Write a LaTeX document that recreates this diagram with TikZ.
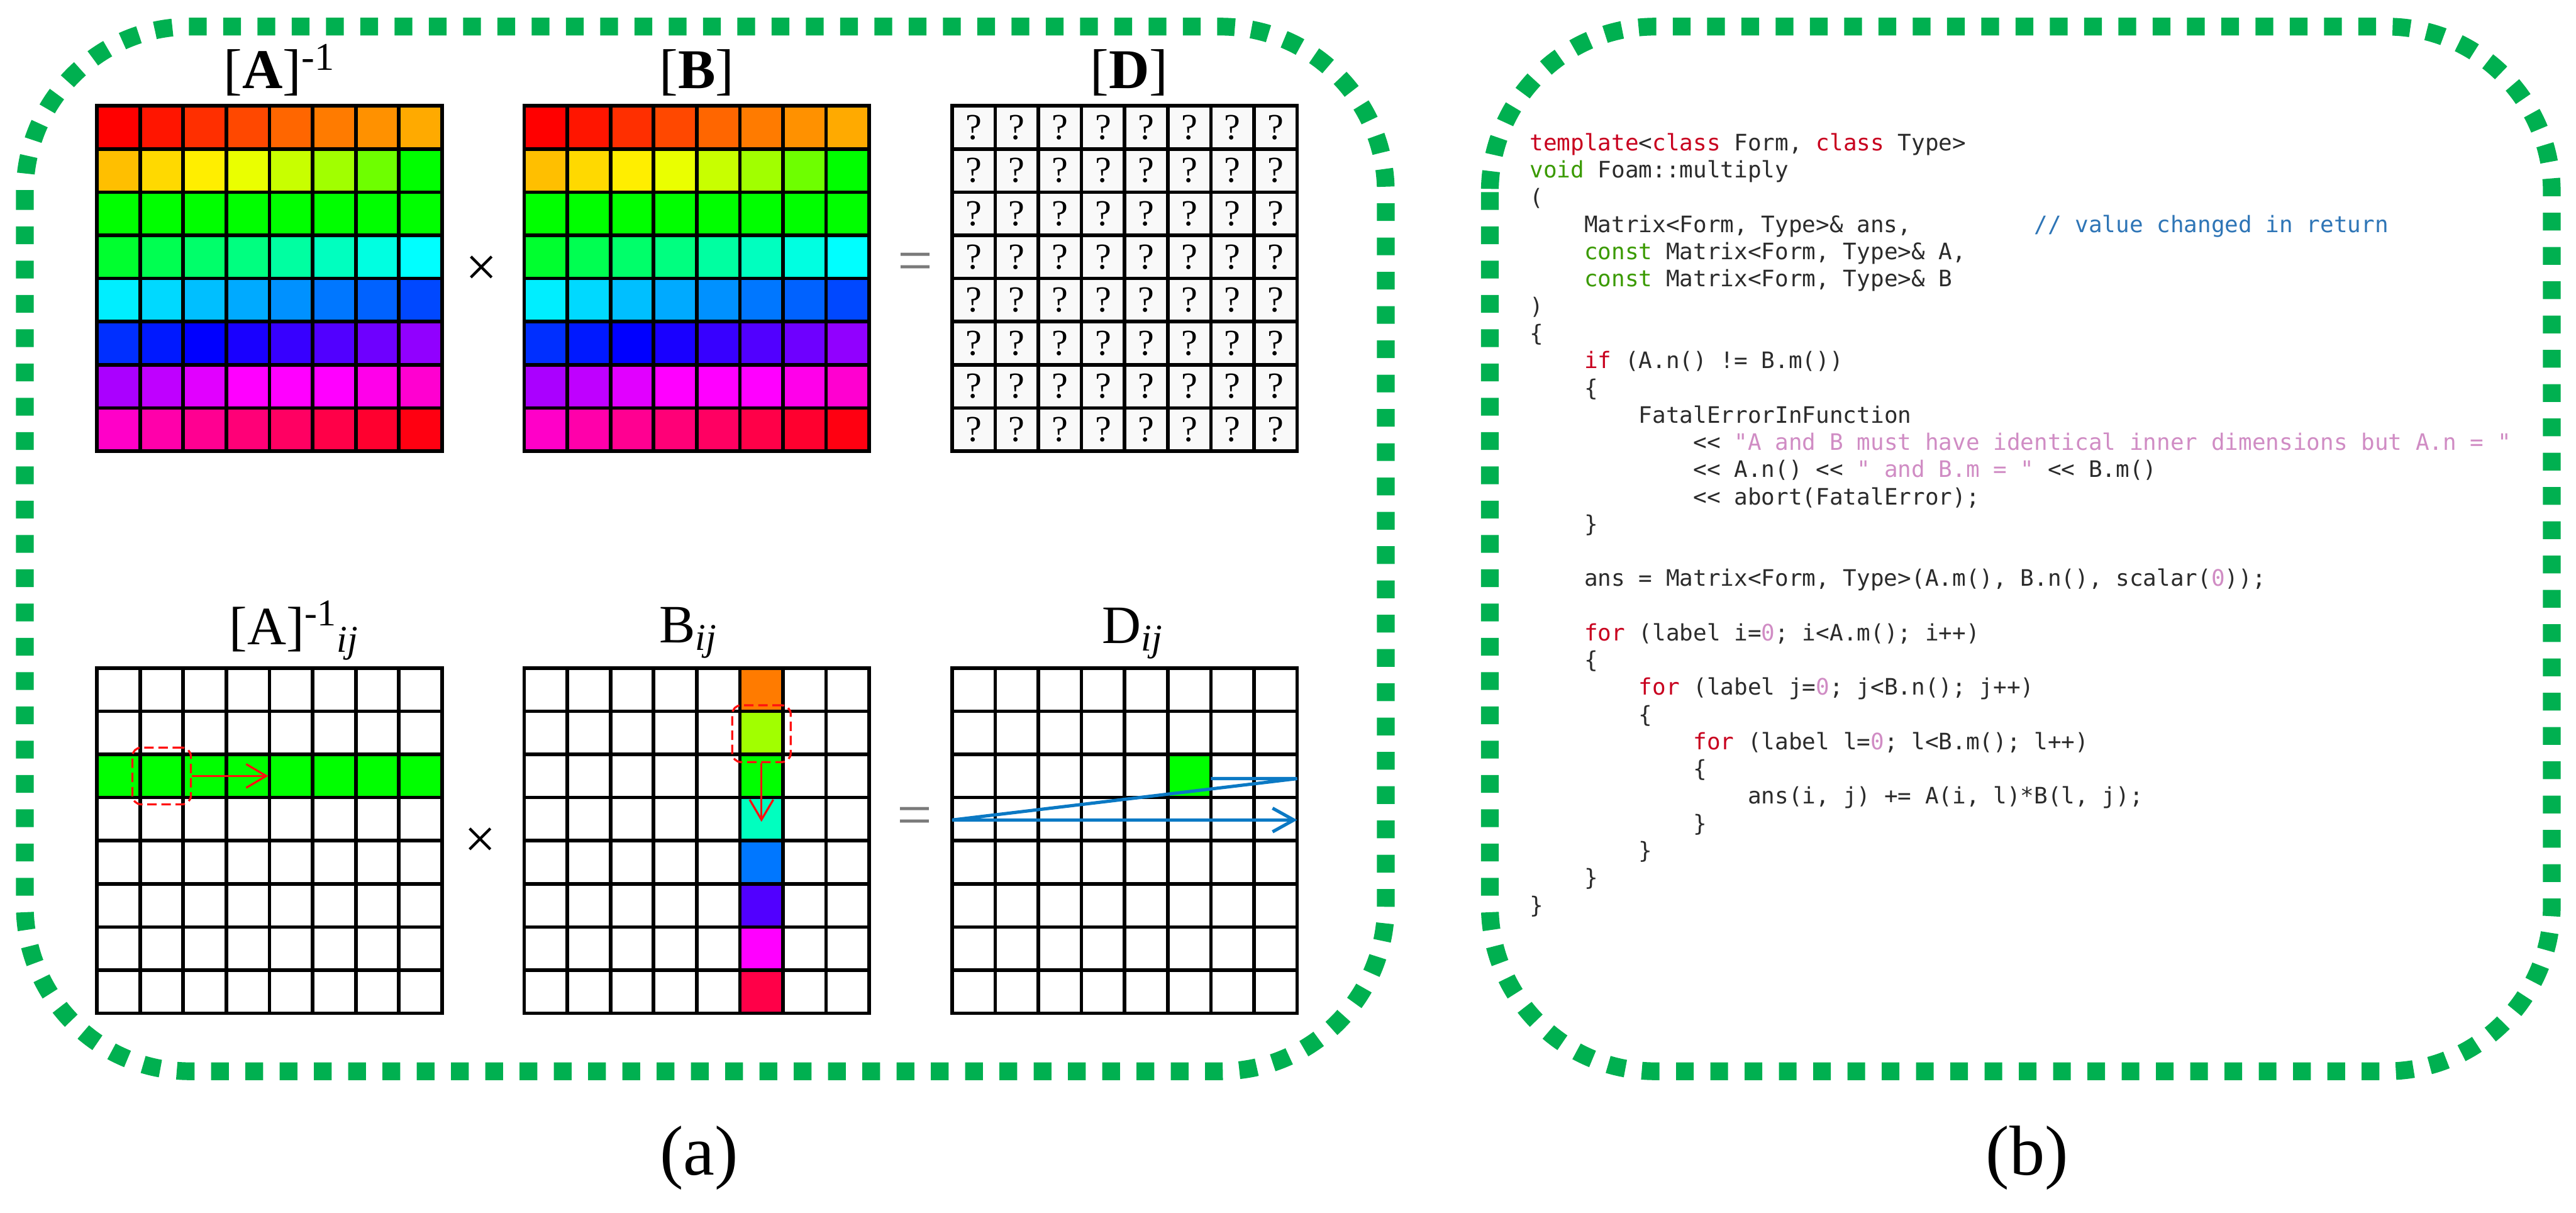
\documentclass[tikz,border=0pt]{standalone}
\usepackage{fontspec}
\setmainfont{Liberation Serif}
\newfontfamily\codefont{DejaVu Sans Mono}
\usetikzlibrary{arrows.meta}
\definecolor{boxgrn}{HTML}{00B050}
\definecolor{cellgr}{HTML}{00FF00}
\definecolor{qbg}{HTML}{F9F9F9}
\definecolor{selred}{HTML}{FF1010}
\definecolor{pathblu}{HTML}{0B79C4}
\definecolor{eqgray}{HTML}{7A7A7A}
\definecolor{codetxt}{HTML}{2B2B2B}
\definecolor{kwred}{HTML}{C8001E}
\definecolor{tygrn}{HTML}{3A9A00}
\definecolor{cmblu}{HTML}{2E75B6}
\definecolor{strpk}{HTML}{D08CC4}
\newcommand{\kwd}[1]{\textcolor{kwred}{#1}}
\newcommand{\typ}[1]{\textcolor{tygrn}{#1}}
\newcommand{\cmt}[1]{\textcolor{cmblu}{#1}}
\newcommand{\strg}[1]{\textcolor{strpk}{#1}}
\newcommand{\tb}{\hphantom{xxxx}}
\tikzset{
  frm/.style={draw=boxgrn, line width=3mm, dash pattern=on 3mm off 2.8mm, rounded corners=2.8cm},
  gln/.style={line width=0.6mm, line cap=rect},
  qmk/.style={inner sep=0pt, font=\fontsize{17.6}{20}\selectfont},
  lbl/.style={anchor=base, inner sep=0pt, font=\fontsize{27}{32}\selectfont},
  lbls/.style={anchor=base, inner sep=0pt, font=\fontsize{26}{31}\selectfont},
  opsym/.style={inner sep=0pt, font=\fontsize{27}{32}\selectfont},
  eqsym/.style={inner sep=0pt, text=eqgray, font=\fontsize{30}{34}\selectfont},
  sel/.style={draw=selred, line width=0.35mm, dash pattern=on 1.6mm off 0.8mm, rounded corners=1.5mm,
    minimum width=9.9mm, minimum height=9.6mm, inner sep=0pt},
  rarr/.style={draw=selred, line width=0.35mm, -{Straight Barb[length=3.4mm,width=4mm]}},
  barr/.style={draw=pathblu, line width=0.55mm, line join=bevel, -{Straight Barb[length=3.6mm,width=4mm]}},
  src/.style={anchor=north west, inner sep=0pt, align=left, text=codetxt,
    font=\codefont\fontsize{10.9}{13.1}\selectfont},
  capt/.style={anchor=base, inner sep=0pt, font=\fontsize{34}{40}\selectfont}}

\begin{document}
\begin{tikzpicture}
\useasboundingbox (0,0) rectangle (43.59,-20.51);
\draw[frm] (0.42,-0.45) rectangle (23.45,-18.12);
\draw[frm] (25.21,-0.45) rectangle (43.18,-18.12);
\foreach \hues [count=\row] in {{0,5,11,17,24,29,34,40},{45,51,56,65,73,82,94,120},{120,120,120,120,120,120,120,120},{131,139,145,150,158,165,173,180},{184,189,195,200,206,212,217,223},{229,234,240,246,253,259,266,274},{280,285,293,300,300,300,305,311},{313,320,326,332,337,343,349,356}}{
  \foreach \h [count=\col] in \hues {
    \definecolor{cellc}{Hsb}{\h,1,1}
    \fill[cellc] ({1.64+(\col-1)*0.73},{-1.79-(\row-1)*0.73}) rectangle +(0.73,-0.73);
    \fill[cellc] ({8.87+(\col-1)*0.73},{-1.79-(\row-1)*0.73}) rectangle +(0.73,-0.73);
    \ifnum\col=6 \fill[cellc] (12.52,{-11.30-(\row-1)*0.73}) rectangle +(0.73,-0.73); \fi
  }
}
\fill[qbg] (16.11,-1.79) rectangle +(5.84,-5.84);
\fill[cellgr] (1.64,-12.76) rectangle +(5.84,-0.73);
\fill[cellgr] (19.76,-12.76) rectangle +(0.73,-0.73);
\foreach \gx in {1.64,8.87,16.11}{
  \foreach \gy in {-1.79,-11.30}{
    \foreach \k in {0,...,8}{
      \draw[gln] ({\gx+\k*0.73},\gy) -- ++(0,-5.84);
      \draw[gln] (\gx,{\gy-\k*0.73}) -- ++(5.84,0);
    }
  }
}
\foreach \row in {1,...,8}{
  \foreach \col in {1,...,8}{
    \node[qmk] (q\row\col) at ({16.11+(\col-0.5)*0.73},{-1.79-(\row-0.5)*0.73}) {?};
  }
}
\node[lbl] (labA) at (4.73,-1.50) {[\textbf{A}]\textsuperscript{-1}};
\node[lbl] (labB) at (11.79,-1.50) {[\textbf{B}]};
\node[lbl] (labD) at (19.11,-1.50) {[\textbf{D}]};
\node[lbls] (labAij) at (4.98,-10.90) {[A]\textsuperscript{-1}\textsubscript{\textit{ij}}};
\node[lbls] (labBij) at (11.65,-10.87) {B\textsubscript{\textit{ij}}};
\node[lbls] (labDij) at (19.17,-10.88) {D\textsubscript{\textit{ij}}};
\node[opsym] (mulTop) at (8.15,-4.58) {\texttimes};
\node[eqsym] (eqTop) at (15.49,-4.52) {=};
\node[opsym] (mulBot) at (8.13,-14.26) {\texttimes};
\node[eqsym] (eqBot) at (15.48,-13.90) {=};
\node[sel] (selA) at (2.735,-13.125) {};
\coordinate (endA) at (4.54,-13.125);
\draw[rarr] (selA.east) -- (endA);
\node[sel] (selB) at (12.885,-12.41) {};
\coordinate (endB) at (12.885,-13.90);
\draw[rarr] (selB.south) -- (endB);
\coordinate (pA) at (20.49,-13.17);
\coordinate (pB) at (21.95,-13.17);
\coordinate (pC) at (16.11,-13.87);
\coordinate (pD) at (21.95,-13.87);
\draw[barr] (pA) -- (pB) -- (pC) -- (pD);
\node[src] (code) at (25.88,-2.25) {%
\kwd{template}<\kwd{class} Form, \kwd{class} Type>\\
\typ{void} Foam::multiply\\
(\\
\tb Matrix<Form, Type>\& ans,\hphantom{xxxxxxxxx}\cmt{// value changed in return}\\
\tb\typ{const} Matrix<Form, Type>\& A,\\
\tb\typ{const} Matrix<Form, Type>\& B\\
)\\
\{\\
\tb\kwd{if} (A.n() != B.m())\\
\tb\{\\
\tb\tb FatalErrorInFunction\\
\tb\tb\tb<< \strg{"A and B must have identical inner dimensions but A.n = "}\\
\tb\tb\tb<< A.n() << \strg{" and B.m = "} << B.m()\\
\tb\tb\tb<< abort(FatalError);\\
\tb\}\\
\mbox{}\\
\tb ans = Matrix<Form, Type>(A.m(), B.n(), scalar(\strg{0}));\\
\mbox{}\\
\tb\kwd{for} (label i=\strg{0}; i<A.m(); i++)\\
\tb\{\\
\tb\tb\kwd{for} (label j=\strg{0}; j<B.n(); j++)\\
\tb\tb\{\\
\tb\tb\tb\kwd{for} (label l=\strg{0}; l<B.m(); l++)\\
\tb\tb\tb\{\\
\tb\tb\tb\tb ans(i, j) += A(i, l)*B(l, j);\\
\tb\tb\tb\}\\
\tb\tb\}\\
\tb\}\\
\}};
\node[capt] (capA) at (11.83,-19.87) {(a)};
\node[capt] (capB) at (34.30,-19.87) {(b)};
\end{tikzpicture}
\end{document}
